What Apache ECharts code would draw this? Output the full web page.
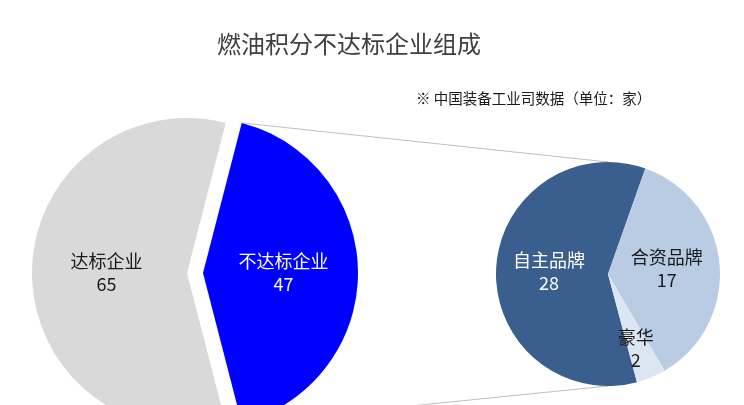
<!DOCTYPE html>
<html>
<head>
<meta charset="utf-8">
<script src="https://cdn.jsdelivr.net/npm/echarts@6/dist/echarts.min.js"></script>
<style>
  html, body { margin: 0; padding: 0; background: #fff; }
  #root { width: 744px; height: 405px; }
</style>
</head>
<body>
<div id="root"></div>
<script>
// 主饼图：达标 / 不达标
const mainNames = ['不达标企业', '达标企业']
const mainValues = [47, 65]
const mainColors = ['#0000ff', '#d9d9d9']

// 子饼图：不达标企业的构成
const subNames = ['自主品牌', '合资品牌', '豪华']
const subValues = [28, 17, 2]
const subColors = ['#3a5f8e', '#b9cce4', '#dce6f2']

const font = '"Noto Sans CJK SC", "Noto Sans", sans-serif'

// 布局（像素）
const mainCenter = [187, 273]
const mainRadius = 155
const explode = 16
const subCenter = [608, 274]
const subRadius = 112

const main = document.getElementById('root')
const myChart = echarts.init(main)

const mainTotal = mainValues.reduce((a, b) => a + b, 0)
// 不达标扇区居中朝右
const mainStart = mainValues[0] / mainTotal * 360 / 2

// 连接线：从分离扇区的两个角到子饼图的上下端
const half = mainStart * Math.PI / 180
const bx = mainCenter[0] + explode
const topCorner = [bx + mainRadius * Math.cos(half), mainCenter[1] - mainRadius * Math.sin(half)]
const botCorner = [bx + mainRadius * Math.cos(half), mainCenter[1] + mainRadius * Math.sin(half)]
const subTop = [subCenter[0], subCenter[1] - subRadius]
const subBot = [subCenter[0], subCenter[1] + subRadius]

const option = {
  animation: false,
  textStyle: { fontFamily: font },
  title: [
    {
      text: '燃油积分不达标企业组成',
      left: 212,
      top: 27,
      textStyle: { fontFamily: font, fontSize: 24, fontWeight: 'normal', color: '#404040' }
    },
    {
      text: '※ 中国装备工业司数据（单位：家）',
      left: 411,
      top: 86,
      textStyle: { fontFamily: font, fontSize: 14.5, fontWeight: 'normal', color: '#1a1a1a' }
    }
  ],
  graphic: [
    {
      type: 'polyline',
      silent: true,
      shape: { points: [topCorner, subTop] },
      style: { stroke: '#bfbfbf', lineWidth: 1, fill: null }
    },
    {
      type: 'polyline',
      silent: true,
      shape: { points: [botCorner, subBot] },
      style: { stroke: '#bfbfbf', lineWidth: 1, fill: null }
    }
  ],
  series: [
    {
      type: 'pie',
      center: mainCenter,
      radius: mainRadius,
      startAngle: mainStart,
      clockwise: true,
      selectedMode: 'single',
      selectedOffset: explode,
      emphasis: { disabled: true },
      label: {
        position: 'inside',
        formatter: '{b}\n{c}',
        fontFamily: font,
        fontSize: 18,
        lineHeight: 23
      },
      labelLine: { show: false },
      data: mainNames.map((name, i) => ({
        name,
        value: mainValues[i],
        selected: i === 0,
        itemStyle: { color: mainColors[i] },
        label: { color: i === 0 ? '#ffffff' : '#1a1a1a' }
      }))
    },
    {
      type: 'pie',
      center: subCenter,
      radius: subRadius,
      startAngle: -75,
      clockwise: true,
      emphasis: { disabled: true },
      label: {
        position: 'inside',
        formatter: '{b}\n{c}',
        fontFamily: font,
        fontSize: 18,
        lineHeight: 23
      },
      labelLine: { show: false },
      data: subNames.map((name, i) => ({
        name,
        value: subValues[i],
        itemStyle: { color: subColors[i] },
        label: i === 2
          ? { color: '#1a1a1a', offset: [5, 20] }
          : { color: i === 0 ? '#ffffff' : '#1a1a1a' }
      }))
    }
  ]
}

myChart.setOption(option)
</script>
</body>
</html>
